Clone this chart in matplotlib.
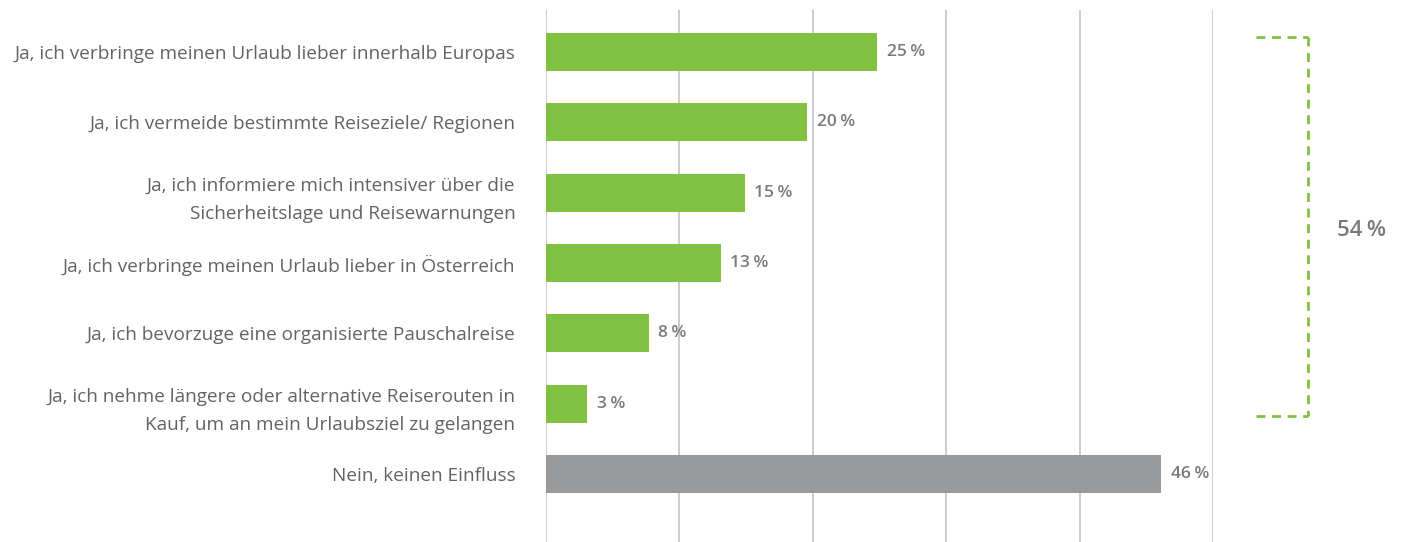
import matplotlib
matplotlib.use("Agg")
import matplotlib.pyplot as plt
import numpy as np

plt.rcParams['font.family'] = ['Open Sans', 'DejaVu Sans']

categories = [
    "Ja, ich verbringe meinen Urlaub lieber innerhalb Europas",
    "Ja, ich vermeide bestimmte Reiseziele/ Regionen",
    "Ja, ich informiere mich intensiver über die\nSicherheitslage und Reisewarnungen",
    "Ja, ich verbringe meinen Urlaub lieber in Österreich",
    "Ja, ich bevorzuge eine organisierte Pauschalreise",
    "Ja, ich nehme längere oder alternative Reiserouten in\nKauf, um an mein Urlaubsziel zu gelangen",
    "Nein, keinen Einfluss",
]
values = [24.8, 19.6, 14.9, 13.1, 7.7, 3.1, 46.1]
value_labels = ["25", "20", "15", "13", "8", "3", "46"]
yes_total_label = "54"
green = "#80c141"
grey = "#999a9c"
colors = [green] * 6 + [grey]

W, H = 1406, 542
fig = plt.figure(figsize=(W / 100, H / 100), dpi=100)
ax = fig.add_axes([546 / W, 0, (1213 - 546) / W, (542 - 10) / H])

y = np.arange(len(categories))
ax.barh(y, values, height=0.54, color=colors, zorder=3)
ax.set_xlim(0, 50)
ax.set_ylim(6.967, -0.597)

for xv in np.arange(0, 51, 10):
    ax.axvline(xv, color="#c8c8c8", lw=1.3, zorder=1)

for s in ax.spines.values():
    s.set_visible(False)
ax.set_xticks([])
ax.set_yticks(y)
ax.set_yticklabels(categories, fontsize=13.7, color="#636363", linespacing=1.75)
ax.tick_params(axis="y", length=0, pad=22)

for yi, v, lab in zip(y, values, value_labels):
    ax.annotate(lab + "\u2009%", xy=(v, yi), xytext=(7, 0), textcoords="offset points",
                ha="left", va="center", fontsize=12.5, fontweight="semibold",
                color="#7a7a7a", zorder=4)

# bracket for all "Ja" answers
bx0, bx1 = 53.2, 57.1
bt, bb = -0.21, 5.18
dash = (0, (3.2, 2.4))
ax.plot([bx0, bx1], [bt, bt], color=green, lw=2.0, linestyle=dash, clip_on=False, zorder=4)
ax.plot([bx0, bx1], [bb, bb], color=green, lw=2.0, linestyle=dash, clip_on=False, zorder=4)
ax.plot([bx1, bx1], [bt, bb], color=green, lw=2.0, linestyle=dash, clip_on=False, zorder=4)
ax.text(61.1, 2.54, yes_total_label + "\u2009%", ha="center", va="center",
        fontsize=16, fontweight="semibold", color="#7a7a7a", clip_on=False)

fig.savefig("out.png", dpi=100)
